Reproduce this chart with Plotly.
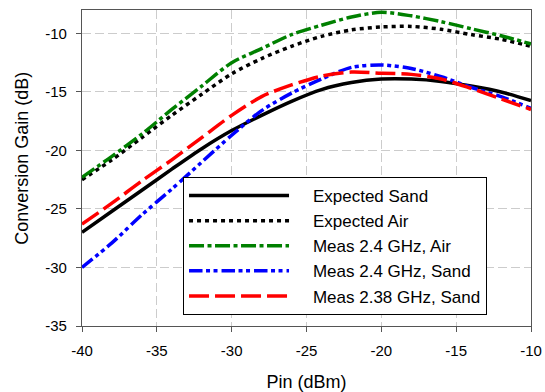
import plotly.graph_objects as go

# Input power sweep (dBm)
pin = [-40, -38, -36, -34, -32, -30, -28, -26, -24, -22, -20, -18, -16, -14, -12, -10]

# Conversion gain (dB) for each case
expected_sand = [-27.0, -25.2, -23.4, -21.6, -19.85, -18.3, -17.0, -15.8, -14.8, -14.2,
                 -13.9, -13.9, -14.1, -14.5, -15.0, -15.75]
expected_air = [-22.5, -20.8, -18.9, -17.0, -15.2, -13.45, -12.15, -11.1, -10.25, -9.7,
                -9.45, -9.4, -9.65, -10.1, -10.5, -11.1]
meas_24_air = [-22.3, -20.5, -18.6, -16.5, -14.5, -12.5, -11.3, -10.1, -9.3, -8.6,
               -8.2, -8.5, -9.0, -9.6, -10.2, -10.9]
meas_24_sand = [-30.0, -27.9, -25.5, -23.3, -21.0, -18.7, -16.6, -15.1, -13.9, -12.9,
                -12.7, -13.0, -13.7, -14.6, -15.4, -16.4]
meas_238_sand = [-26.3, -24.5, -22.6, -20.8, -18.9, -17.0, -15.4, -14.4, -13.65, -13.3,
                 -13.4, -13.5, -13.9, -14.7, -15.6, -16.5]

# Axis ticks (plain hyphen-minus labels)
x_ticks = [-40, -35, -30, -25, -20, -15, -10]
x_tick_labels = ["-40", "-35", "-30", "-25", "-20", "-15", "-10"]
y_ticks = [-35, -30, -25, -20, -15, -10]
y_tick_labels = ["-35", "-30", "-25", "-20", "-15", "-10"]

series = [
    ("Expected Sand", expected_sand, "#000000", "solid"),
    ("Expected Air", expected_air, "#000000", "4px,4px"),
    ("Meas 2.4 GHz, Air", meas_24_air, "#008000", "15px,3.5px,4px,3.5px"),
    ("Meas 2.4 GHz, Sand", meas_24_sand, "#0000FF", "13.5px,3.5px,4px,3.5px,4px,4px"),
    ("Meas 2.38 GHz, Sand", meas_238_sand, "#FF0000", "20px,6px"),
]

FONT = "Liberation Sans, Arial, sans-serif"
PAD = "\u00a0" * 4  # gap between legend line sample and label

fig = go.Figure()
for name, vals, color, dash in series:
    fig.add_trace(go.Scatter(
        x=pin, y=vals, name=PAD + name, mode="lines",
        line=dict(color=color, width=3.5, dash=dash, shape="spline", smoothing=0.8),
    ))

axis_common = dict(
    showline=True, linecolor="#555555", linewidth=1.3, mirror=True,
    ticks="outside", ticklen=5, tickcolor="#555555", tickwidth=1.3,
    showgrid=True, gridcolor="#cccccc", gridwidth=1, griddash="9px,4px",
    zeroline=False, tickfont=dict(size=15, color="#000000", family=FONT),
    ticklabelstandoff=6, automargin=False,
)

fig.update_xaxes(
    range=[-40, -10], tickmode="array", tickvals=x_ticks, ticktext=x_tick_labels,
    title=dict(text="Pin (dBm)", font=dict(size=18, color="#000000", family=FONT), standoff=22),
    **axis_common,
)
fig.update_yaxes(
    range=[-35, -8], tickmode="array", tickvals=y_ticks, ticktext=y_tick_labels,
    **axis_common,
)

fig.add_annotation(
    text="Conversion Gain (dB)", textangle=-90,
    xref="paper", yref="paper", x=-0.134, y=0.532,
    xanchor="center", yanchor="middle", showarrow=False,
    font=dict(size=18, color="#000000", family=FONT),
)

fig.update_layout(
    width=545, height=392,
    margin=dict(l=82, r=14, t=10, b=66),
    paper_bgcolor="white", plot_bgcolor="white",
    font=dict(family=FONT, color="#000000"),
    legend=dict(
        x=0.225, y=0.4715, xanchor="left", yanchor="top",
        bgcolor="white", bordercolor="#000000", borderwidth=1,
        font=dict(size=17, family=FONT, color="#000000"),
        itemwidth=100, tracegroupgap=0,
    ),
    showlegend=True,
)

fig.write_html("out.html")
